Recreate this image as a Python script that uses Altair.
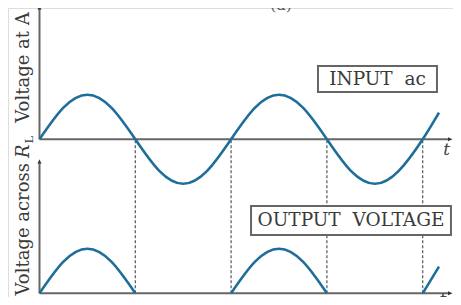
import altair as alt
import pandas as pd

# ---- values ----------------------------------------------------------------
# t : time in half-periods of the input wave; v : voltage in units of the peak
T_IN = [0, 0.25, 0.5, 0.75, 1, 1.25, 1.5, 1.75, 2, 2.25, 2.5, 2.75, 3, 3.25, 3.5, 3.75, 4, 4.17]
V_IN = [0, 0.71, 1, 0.71, 0, -0.71, -1, -0.71, 0, 0.71, 1, 0.71, 0, -0.71, -1, -0.71, 0, 0.6]

T_OUT = [0, 0.25, 0.5, 0.75, 1, 2, 2.25, 2.5, 2.75, 3, 4, 4.17]
V_OUT = [0, 0.71, 1, 0.71, 0, 0, 0.71, 1, 0.71, 0, 0, 0.6]
PULSE = [1, 1, 1, 1, 1, 2, 2, 2, 2, 2, 3, 3]

CROSSINGS = [1, 2, 3, 4]            # dashed guides at the zero crossings

PANELS = ["input", "output"]
PANEL_BASE = [3.461, 0.0]           # baseline of each panel on the shared scale

AXIS_END_T, ARROW_TIP_T = 4.27, 4.311
AXIS_TOP_V, ARROW_TOP_V = 2.91, 3.01

BOX_TEXT = ["INPUT\u00a0\u00a0ac", "OUTPUT\u00a0\u00a0VOLTAGE"]
BOX_PANEL = ["input", "output"]
BOX_T0 = [2.907, 2.208]
BOX_T1 = [4.149, 4.295]
BOX_V0 = [1.063, 1.310]
BOX_V1 = [1.647, 1.962]

T_LABEL_T = [4.251, 4.212]
T_LABEL_V = [-0.241, -0.15]

# ---- tables ------------------------------------------------------------------
base = dict(zip(PANELS, PANEL_BASE))
BLUE = "#1f6e99"
GREY = "#666666"
INK = "#3a3a3a"
SERIF = "DejaVu Serif"

XS = alt.Scale(domain=[-0.3288, 4.3163], nice=False, zero=False)
YS = alt.Scale(domain=[-0.0831, 6.411], nice=False, zero=False)


def X(f):
    return alt.X(f, type="quantitative", scale=XS, axis=None)


def Y(f):
    return alt.Y(f, type="quantitative", scale=YS, axis=None)


inp = pd.DataFrame({"t": T_IN, "y": [v + base["input"] for v in V_IN]})
out = pd.DataFrame({"t": T_OUT, "y": [v + base["output"] for v in V_OUT], "pulse": PULSE})

dash = pd.DataFrame({"t": CROSSINGS,
                     "y0": [base["output"]] * len(CROSSINGS),
                     "y1": [base["input"] - 0.04] * len(CROSSINGS)})

xaxes = pd.DataFrame({"t0": [0, 0], "t1": [AXIS_END_T] * 2, "y": PANEL_BASE})
yaxes = pd.DataFrame({"t": [0, 0], "y0": PANEL_BASE,
                      "y1": [b + AXIS_TOP_V for b in PANEL_BASE]})
arrows = pd.DataFrame({
    "t": [ARROW_TIP_T, ARROW_TIP_T, 0, 0],
    "y": PANEL_BASE + [b + ARROW_TOP_V for b in PANEL_BASE],
    "shape": ["M0,0L-1.8,-0.8L-1.8,0.8Z"] * 2 + ["M0,0L-0.8,1.8L0.8,1.8Z"] * 2,
})

boxes = pd.DataFrame({
    "label": BOX_TEXT,
    "t0": BOX_T0, "t1": BOX_T1,
    "y0": [base[p] + v for p, v in zip(BOX_PANEL, BOX_V0)],
    "y1": [base[p] + v for p, v in zip(BOX_PANEL, BOX_V1)],
})
boxes["tc"] = (boxes.t0 + boxes.t1) / 2
boxes["yc"] = (boxes.y0 + boxes.y1) / 2

tlabels = pd.DataFrame({"t": T_LABEL_T,
                        "y": [b + v for b, v in zip(PANEL_BASE, T_LABEL_V)],
                        "s": ["t", "t"]})

# rotated y-axis captions (positions on the shared scale)
ylab_c = pd.DataFrame({"t": [-0.1096], "y": [5.074], "s": ["Voltage at A"]})
ylab_r = pd.DataFrame({"t": [-0.1096], "y": [2.928], "s": ["Voltage across"]})
ylab_R = pd.DataFrame({"t": [-0.1096], "y": [3.040], "s": ["R"]})
ylab_L = pd.DataFrame({"t": [-0.1096], "y": [3.37], "s": ["L"]})
cap = pd.DataFrame({"t": [2.52], "y": [6.366], "s": ["(a)"]})

# ---- layers ------------------------------------------------------------------
l_dash = alt.Chart(dash).mark_rule(color="#555555", strokeWidth=1.2, strokeDash=[3, 2]).encode(
    x=X("t"), y=Y("y0"), y2="y1")
l_xax = alt.Chart(xaxes).mark_rule(color=GREY, strokeWidth=2).encode(
    x=X("t0"), x2="t1", y=Y("y"))
l_yax = alt.Chart(yaxes).mark_rule(color=GREY, strokeWidth=2).encode(
    x=X("t"), y=Y("y0"), y2="y1")
l_arr = alt.Chart(arrows).mark_point(filled=True, size=25, opacity=1, color="#333333").encode(
    x=X("t"), y=Y("y"), shape=alt.Shape("shape:N", scale=None))
l_in = alt.Chart(inp).mark_line(interpolate="natural", color=BLUE, strokeWidth=2.6).encode(
    x=X("t"), y=Y("y"))
l_out = alt.Chart(out).mark_line(interpolate="natural", color=BLUE, strokeWidth=2.6).encode(
    x=X("t"), y=Y("y"), detail="pulse:N")
l_box = alt.Chart(boxes).mark_rect(fill="white", stroke=GREY, strokeWidth=2).encode(
    x=X("t0"), x2="t1", y=Y("y0"), y2="y1")
l_boxt = alt.Chart(boxes).mark_text(font=SERIF, fontSize=18.5, color=INK,
                                    align="center", baseline="middle").encode(
    x=X("tc"), y=Y("yc"), text="label:N")
l_t = alt.Chart(tlabels).mark_text(font=SERIF, fontSize=17, fontStyle="italic", color="#444444",
                                   align="center", baseline="middle").encode(
    x=X("t"), y=Y("y"), text="s:N")
l_yc = alt.Chart(ylab_c).mark_text(font=SERIF, fontSize=18, color=INK, angle=270,
                                   align="center", baseline="alphabetic").encode(
    x=X("t"), y=Y("y"), text="s:N")
l_yr = alt.Chart(ylab_r).mark_text(font=SERIF, fontSize=18, color=INK, angle=270,
                                   align="right", baseline="alphabetic").encode(
    x=X("t"), y=Y("y"), text="s:N")
l_yR = alt.Chart(ylab_R).mark_text(font=SERIF, fontSize=18, fontStyle="italic", color=INK, angle=270,
                                   align="left", baseline="alphabetic").encode(
    x=X("t"), y=Y("y"), text="s:N")
l_yL = alt.Chart(ylab_L).mark_text(font=SERIF, fontSize=11, color=INK, angle=270, dy=4,
                                   align="left", baseline="alphabetic").encode(
    x=X("t"), y=Y("y"), text="s:N")
l_cap = alt.Chart(cap).mark_text(font=SERIF, fontSize=16, color="#555555",
                                 align="center", baseline="alphabetic").encode(
    x=X("t"), y=Y("y"), text="s:N")

chart = alt.layer(
    l_dash, l_xax, l_yax, l_arr, l_in, l_out, l_box, l_boxt, l_t,
    l_yc, l_yr, l_yR, l_yL, l_cap,
).properties(
    width=445, height=289,
    autosize=alt.AutoSizeParams(type="none", contains="padding"),
    padding=0,
).configure_view(stroke=None).configure(background="white")

chart.save("out.html", embed_options={"renderer": "svg", "actions": False})
